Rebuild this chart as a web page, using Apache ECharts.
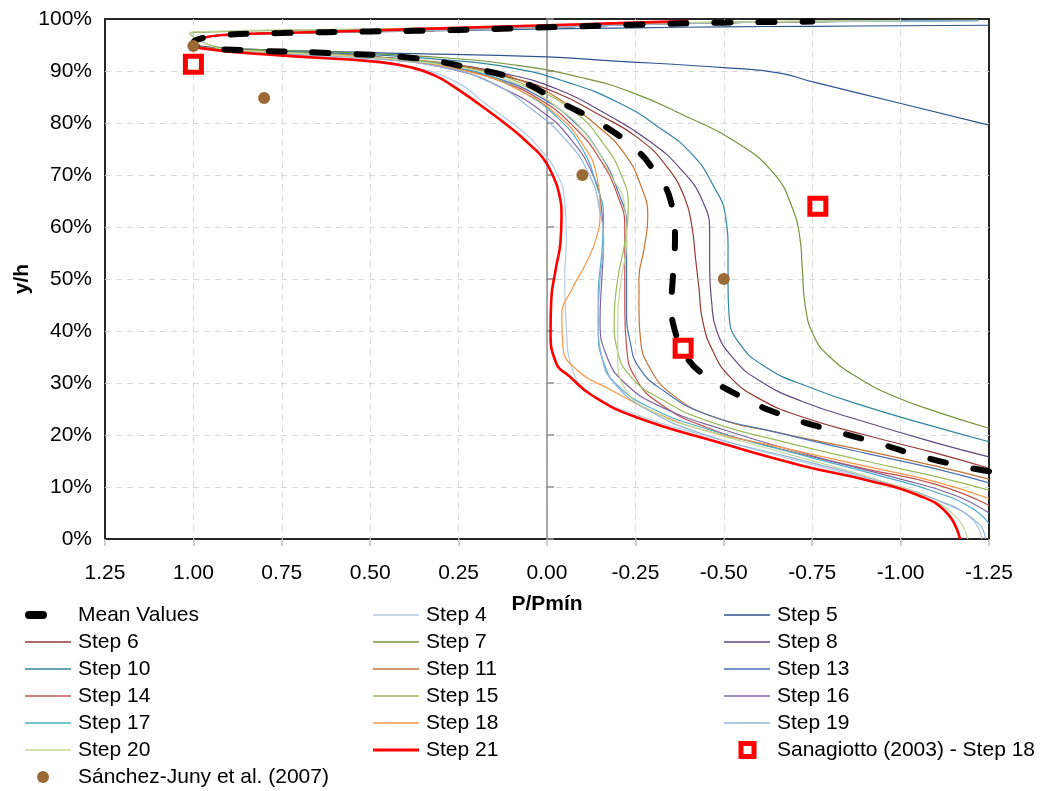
<!DOCTYPE html>
<html>
<head>
<meta charset="utf-8">
<script src="https://cdn.jsdelivr.net/npm/echarts@6/dist/echarts.min.js"></script>
<style>html,body{margin:0;padding:0;background:#fff;}#c{width:1042px;height:791px;}</style>
</head>
<body>
<div id="c"></div>
<script>
// ---- Data (x = P/Pmín, y = y/h in %) ----
const xTicks = [1.25, 1.00, 0.75, 0.50, 0.25, 0.00, -0.25, -0.50, -0.75, -1.00, -1.25];
const yTicks = [0, 10, 20, 30, 40, 50, 60, 70, 80, 90, 100];

const meanValues = [[-1.25,13.0],[-1.188,13.8],[-1.063,15.8],[-0.933,18.5],[-0.80,21.0],[-0.667,23.8],[-0.551,27.3],[-0.438,31.9],[-0.39,35.5],[-0.362,40],[-0.352,45],[-0.356,50.4],[-0.362,58],[-0.35,65],[-0.3,71],[-0.263,74.2],[-0.158,79.6],[-0.037,84],[0.085,88.3],[0.218,90.6],[0.379,92.5],[0.6,93.4],[0.85,94.0],[0.98,94.6],[1.0,95.4],[0.97,96.4],[0.9,97.0],[0.75,97.3],[0.5,97.6],[0.25,97.9],[0,98.4],[-0.25,98.9],[-0.5,99.3],[-0.75,99.5]];
const step4 = [[-1.23,0],[-1.2,4],[-1.1,7.6],[-0.95,10.8],[-0.7,15.2],[-0.45,19.8],[-0.25,24],[-0.12,28],[-0.07,33],[-0.055,40],[-0.05,50],[-0.055,58],[-0.05,65],[-0.03,70],[0.02,75],[0.08,79],[0.17,83.5],[0.26,88],[0.4,91],[0.6,92.6],[0.85,93.6],[0.98,94.4],[1.0,95.4],[0.97,96.4],[0.9,97.0],[0.75,97.3],[0.5,97.6],[0.25,97.9],[0,98.4],[-0.25,98.9],[-0.5,99.3],[-0.75,99.5],[-0.9,99.6]];
const step5 = [[-1.25,79.6],[-0.998,83.8],[-0.752,87.9],[-0.659,89.6],[-0.509,90.6],[-0.15,92.1],[0,92.7],[0.472,93.5],[0.85,94.2],[0.98,94.8],[1.0,95.6],[0.97,96.5],[0.9,96.9],[0.75,97.2],[0.5,97.5],[0.25,97.8],[0,98.1],[-0.25,98.3],[-0.5,98.5],[-0.75,98.6],[-1.0,98.7],[-1.25,98.8]];
const step6 = [[-1.25,13.6],[-1.1,16.5],[-0.9,20],[-0.72,23.5],[-0.6,27],[-0.52,31],[-0.47,36],[-0.44,42],[-0.43,48],[-0.42,54],[-0.41,60],[-0.39,65.5],[-0.34,71.5],[-0.26,77],[-0.15,81.5],[-0.02,86],[0.12,89],[0.3,91.5],[0.55,93],[0.85,94],[0.98,94.6],[1.0,95.4],[0.97,96.4],[0.9,97.0],[0.75,97.3],[0.5,97.6],[0.25,97.9],[0,98.4],[-0.25,98.9],[-0.5,99.3],[-0.75,99.5]];
const step7 = [[-1.25,21.3],[-1.1,24.5],[-0.98,27.5],[-0.88,31],[-0.8,35],[-0.755,39],[-0.73,45],[-0.722,52],[-0.715,58],[-0.696,63.3],[-0.64,70.4],[-0.526,76.7],[-0.396,81.2],[-0.243,85.8],[-0.093,88.8],[0.096,91.2],[0.283,92.5],[0.55,93.5],[0.85,94.2],[0.93,94.6],[1.01,97.2],[0.9,97.6],[0.75,97.8],[0.5,98.0],[0.25,98.3],[0,98.7],[-0.25,99.1],[-0.5,99.4],[-0.75,99.6],[-1.0,99.7],[-1.22,99.8]];
const step8 = [[-1.25,15.8],[-1.1,18.5],[-0.9,22.5],[-0.72,26.5],[-0.6,30.5],[-0.53,34.5],[-0.48,40],[-0.465,46],[-0.46,52],[-0.46,58.8],[-0.44,65],[-0.38,71],[-0.29,76.5],[-0.16,82],[-0.03,86.5],[0.12,89.5],[0.3,91.5],[0.55,93],[0.85,94],[0.98,94.6],[1.0,95.4],[0.97,96.4],[0.9,97.0],[0.75,97.3],[0.5,97.6],[0.25,97.9],[0,98.4],[-0.25,98.9],[-0.5,99.3],[-0.7,99.5]];
const step10 = [[-1.25,18.7],[-1.1,21.5],[-0.9,25.5],[-0.75,29],[-0.62,33],[-0.54,38],[-0.515,43],[-0.512,48.5],[-0.512,55],[-0.505,62],[-0.47,68],[-0.41,74],[-0.32,79],[-0.2,84],[-0.05,88],[0.1,90.6],[0.28,92.1],[0.55,93.3],[0.85,94],[0.98,94.6],[1.0,95.4],[0.97,96.4],[0.9,97.0],[0.75,97.3],[0.5,97.6],[0.25,97.9],[0,98.4],[-0.25,98.9],[-0.5,99.3],[-0.75,99.5],[-1.0,99.6],[-1.22,99.7]];
const step11 = [[-1.25,11.5],[-1.1,14],[-0.9,17],[-0.65,20.5],[-0.47,23.5],[-0.35,28],[-0.29,33],[-0.265,38],[-0.26,44],[-0.26,50],[-0.275,56],[-0.285,62],[-0.265,68],[-0.22,74],[-0.15,79],[-0.06,83.5],[0.05,87.5],[0.2,90.5],[0.45,92.5],[0.8,93.8],[0.98,94.6],[1.0,95.4],[0.97,96.4],[0.9,97.0],[0.75,97.3],[0.5,97.6],[0.25,97.9],[0,98.4],[-0.25,98.9],[-0.5,99.3],[-0.6,99.4]];
const step13 = [[-1.25,10.8],[-1.1,13.5],[-0.9,16.5],[-0.65,20.5],[-0.45,24],[-0.33,28.5],[-0.26,33],[-0.235,38],[-0.225,44],[-0.225,52],[-0.225,60],[-0.2,67],[-0.15,74],[-0.08,80],[0.02,85],[0.15,88.8],[0.3,91.2],[0.55,92.8],[0.85,93.8],[0.98,94.6],[1.0,95.4],[0.97,96.4],[0.9,97.0],[0.75,97.3],[0.5,97.6],[0.25,97.9],[0,98.4],[-0.25,98.9],[-0.5,99.3],[-0.8,99.5]];
const step14 = [[-1.25,6.5],[-1.1,10.5],[-0.9,13.5],[-0.65,17.5],[-0.45,21.5],[-0.32,26],[-0.25,31],[-0.225,37],[-0.22,44],[-0.22,52],[-0.22,60],[-0.2,66],[-0.15,73],[-0.08,79],[0.02,84.5],[0.15,88.5],[0.3,91],[0.55,92.8],[0.85,93.8],[0.98,94.6],[1.0,95.4],[0.97,96.4],[0.9,97.0],[0.75,97.3],[0.5,97.6],[0.25,97.9],[0,98.4],[-0.25,98.9],[-0.5,99.3]];
const step15 = [[-1.25,9.4],[-1.1,12],[-0.9,15],[-0.65,19],[-0.45,22.8],[-0.32,27],[-0.24,31],[-0.2,36],[-0.19,42],[-0.2,50],[-0.22,57],[-0.23,64],[-0.21,70],[-0.16,76],[-0.08,82],[0.05,87],[0.2,90.2],[0.45,92.5],[0.8,93.8],[0.98,94.6],[1.0,95.4],[0.97,96.4],[0.9,97.0],[0.75,97.3],[0.5,97.6],[0.25,97.9],[0,98.4],[-0.25,98.9],[-0.5,99.3],[-0.75,99.5],[-1.1,99.7]];
const step16 = [[-1.25,5],[-1.15,8.5],[-1.0,11.5],[-0.75,16],[-0.5,21],[-0.32,25.5],[-0.22,30],[-0.17,35],[-0.15,42],[-0.155,50],[-0.16,57],[-0.155,63],[-0.13,70],[-0.06,77.5],[0.02,82.5],[0.12,86.5],[0.25,90],[0.5,92.5],[0.8,93.6],[0.98,94.4],[1.0,95.4],[0.97,96.4],[0.9,97.0],[0.75,97.3],[0.5,97.6],[0.25,97.9],[0,98.4],[-0.25,98.9],[-0.5,99.3],[-0.7,99.5]];
const step17 = [[-1.25,3],[-1.2,6],[-1.1,9],[-0.95,12],[-0.7,16.5],[-0.45,21.2],[-0.3,25],[-0.2,29.5],[-0.16,34],[-0.145,40],[-0.145,47],[-0.155,55],[-0.16,62],[-0.14,68],[-0.1,75],[-0.03,81],[0.07,86],[0.2,89.8],[0.45,92.3],[0.8,93.6],[0.98,94.4],[1.0,95.4],[0.97,96.4],[0.9,97.0],[0.75,97.3],[0.5,97.6],[0.25,97.9],[0,98.4],[-0.25,98.9],[-0.5,99.3],[-0.75,99.5],[-1.12,99.7]];
const step18 = [[-1.25,7.8],[-1.1,11],[-0.9,14],[-0.65,17.8],[-0.45,20.8],[-0.3,24.5],[-0.18,28.7],[-0.085,32.5],[-0.045,37],[-0.042,43],[-0.07,48],[-0.11,53],[-0.14,58],[-0.15,63],[-0.14,70],[-0.1,76],[-0.03,81.5],[0.07,86],[0.2,89.5],[0.45,92.3],[0.8,93.6],[0.98,94.4],[1.0,95.4],[0.97,96.4],[0.9,97.0],[0.75,97.3],[0.5,97.6],[0.25,97.9],[0,98.4],[-0.25,98.9],[-0.5,99.3],[-0.75,99.5],[-0.86,99.6]];
const step19 = [[-1.24,0],[-1.22,3],[-1.12,7],[-0.95,11],[-0.7,15.5],[-0.45,20],[-0.28,25],[-0.19,30],[-0.155,35],[-0.145,42],[-0.15,50],[-0.16,57],[-0.15,63],[-0.12,70],[-0.05,77],[0.05,83],[0.15,87.5],[0.3,90.8],[0.55,92.6],[0.85,93.6],[0.98,94.4],[1.0,95.4],[0.97,96.4],[0.9,97.0],[0.75,97.3],[0.5,97.6],[0.25,97.9],[0,98.4],[-0.25,98.9],[-0.5,99.3],[-0.75,99.5],[-1.0,99.6],[-1.22,99.7]];
const step20 = [[-1.19,0],[-1.16,4],[-1.08,7.8],[-0.93,11.5],[-0.7,16],[-0.45,20.8],[-0.3,24.5],[-0.22,29],[-0.2,35],[-0.2,42],[-0.21,50],[-0.225,57],[-0.22,64],[-0.18,70],[-0.12,77],[-0.03,83],[0.1,88],[0.3,91.2],[0.6,93],[0.88,94],[0.93,94.4],[1.01,97.3],[0.9,97.7],[0.75,97.9],[0.5,98.1],[0.25,98.4],[0,98.8],[-0.25,99.2],[-0.5,99.4],[-0.75,99.6],[-1.0,99.7]];
const step21 = [[-1.168,0],[-1.131,5],[-1.046,8.5],[-0.905,11.3],[-0.716,14.2],[-0.489,18.5],[-0.249,23.5],[-0.13,27.5],[-0.065,31.2],[-0.025,34],[-0.01,40],[-0.012,46],[-0.025,52],[-0.038,57],[-0.041,62],[-0.034,66.5],[-0.016,70],[0.012,73.3],[0.048,75.8],[0.096,78.7],[0.19,83.5],[0.27,87.3],[0.32,89.2],[0.379,90.6],[0.472,91.7],[0.755,93],[0.98,94.4],[1.0,95.4],[0.98,96.3],[0.9,97.0],[0.755,97.3],[0.5,97.8],[0.25,98.3],[0,98.8],[-0.2,99.2],[-0.4,99.6]];
const sanagiotto = [[1.0,91.3],[-0.385,36.7],[-0.766,64.0]];
const sanchezJuny = [[1.0,94.8],[0.80,84.8],[-0.10,70.0],[-0.50,50.0]];

const lineNames = ['Mean Values','Step 4','Step 5','Step 6','Step 7','Step 8','Step 10','Step 11','Step 13','Step 14','Step 15','Step 16','Step 17','Step 18','Step 19','Step 20','Step 21'];
const lineData = [meanValues, step4, step5, step6, step7, step8, step10, step11, step13, step14, step15, step16, step17, step18, step19, step20, step21];
const lineColors = ['#000000','#B7C9E2','#2E5590','#953735','#77933C','#604A7B','#31859C','#C47433','#4A72B0','#C0504D','#9BBB59','#8064A2','#4BACC6','#F79646','#95B3D7','#C3D69B','#FF0000'];
const sanName = 'Sanagiotto (2003) - Step 18';
const sjName = 'Sánchez-Juny et al. (2007)';

// ---- Chart ----
const FONT = "'Liberation Sans', Arial, sans-serif";
const chart = echarts.init(document.getElementById('c'), null, {renderer: 'canvas'});

const series = lineNames.map((name, i) => {
  const isMean = i === 0;
  const isRed = name === 'Step 21';
  return {
    name, type: 'line', data: lineData[i], smooth: 0.5, symbol: 'none',
    yAxisIndex: 0,
    z: isMean ? 4 : (isRed ? 3 : 2),
    color: lineColors[i],
    lineStyle: {
      color: lineColors[i],
      width: isMean ? 6 : (isRed ? 2.6 : 1.2),
      type: isMean ? [16, 28] : 'solid',
      cap: isMean ? 'round' : 'butt'
    },
    emphasis: {disabled: true}
  };
});
series.push({
  name: sanName, type: 'scatter', data: sanagiotto, symbol: 'rect', symbolSize: 16, z: 6,
  itemStyle: {color: '#FFFFFF', borderColor: '#FF0000', borderWidth: 5, opacity: 1}
});
series.push({
  name: sjName, type: 'scatter', data: sanchezJuny, symbol: 'circle', symbolSize: 12, z: 6,
  itemStyle: {color: '#9B6A34', opacity: 1}
});

const bb = 'M0,0M48,18';
const thinIcon = 'path://' + bb + 'M0,8.2H46V9.8H0Z';
const redIcon = 'path://' + bb + 'M0,7.5H46V10.5H0Z';
const meanIcon = 'path://' + bb + 'M4,5H18A4,4 0 0,1 18,13H4A4,4 0 0,1 4,5Z';
const squareIcon = 'path://' + bb + 'M14.5,0H32.5V18H14.5ZM19.5,5V13H27.5V5Z';
const circleIcon = 'path://' + bb + 'M12,9A6,6 0 1,1 24,9A6,6 0 1,1 12,9Z';

function legItem(name) {
  if (name === sanName) return {name, icon: squareIcon, itemStyle: {color: '#FF0000', borderWidth: 0}};
  if (name === sjName) return {name, icon: circleIcon, itemStyle: {color: '#9B6A34', borderWidth: 0}};
  const i = lineNames.indexOf(name);
  const icon = name === 'Mean Values' ? meanIcon : (name === 'Step 21' ? redIcon : thinIcon);
  return {name, icon, itemStyle: {color: lineColors[i], borderWidth: 0}};
}
const legendCols = [
  ['Mean Values','Step 6','Step 10','Step 14','Step 17','Step 20', sjName],
  ['Step 4','Step 7','Step 11','Step 15','Step 18','Step 21'],
  ['Step 5','Step 8','Step 13','Step 16','Step 19', sanName]
];
const legendLefts = [25, 373, 724];
const legends = legendCols.map((col, k) => ({
  orient: 'vertical', left: legendLefts[k], top: 604, padding: 0,
  itemWidth: 48, itemHeight: 18, itemGap: 5, selectedMode: false,
  symbolKeepAspect: true,
  textStyle: {fontSize: 21, fontFamily: FONT, color: '#000', lineHeight: 22},
  data: col.map(legItem)
}));

const splitStyle = {color: '#D9D9D9', type: [6, 5], width: 1};

chart.setOption({
  animation: false,
  backgroundColor: '#ffffff',
  grid: {left: 105, right: 53, top: 19, bottom: 252, show: true, borderColor: '#262626', borderWidth: 2, backgroundColor: 'transparent'},
  legend: legends,
  xAxis: {
    type: 'value', inverse: true, min: -1.25, max: 1.25, interval: 0.25,
    name: 'P/Pmín', nameLocation: 'middle', nameGap: 55, nameMoveOverlap: false,
    nameTextStyle: {fontSize: 21, fontWeight: 'bold', fontFamily: FONT, color: '#000'},
    axisLine: {show: false, onZero: false},
    axisTick: {show: true, length: 7, lineStyle: {color: '#BFBFBF', width: 1.5}},
    axisLabel: {fontSize: 21, fontFamily: FONT, color: '#000', margin: 24,
      formatter: v => { const s = xTicks.find(t => Math.abs(t - v) < 1e-9); return (s === undefined ? v : s).toFixed(2); }},
    splitLine: {show: true, showMinLine: false, showMaxLine: false, lineStyle: splitStyle}
  },
  yAxis: [{
    type: 'value', min: 0, max: 100, interval: 10, position: 'left',
    name: 'y/h', nameLocation: 'middle', nameGap: 72, nameMoveOverlap: false,
    nameTextStyle: {fontSize: 21, fontWeight: 'bold', fontFamily: FONT, color: '#000'},
    axisLine: {show: false, onZero: false},
    axisTick: {show: false},
    axisLabel: {fontSize: 21, fontFamily: FONT, color: '#000', margin: 13, formatter: '{value}%'},
    splitLine: {show: true, showMinLine: false, showMaxLine: false, lineStyle: splitStyle}
  }, {
    type: 'value', min: 0, max: 100, interval: 10, position: 'left',
    axisLine: {show: true, onZero: true, lineStyle: {color: '#8C8C8C', width: 1.5}},
    axisTick: {show: true, inside: true, length: 7, lineStyle: {color: '#8C8C8C', width: 1.5}},
    axisLabel: {show: false},
    splitLine: {show: false}
  }],
  series
});
</script>
</body>
</html>
